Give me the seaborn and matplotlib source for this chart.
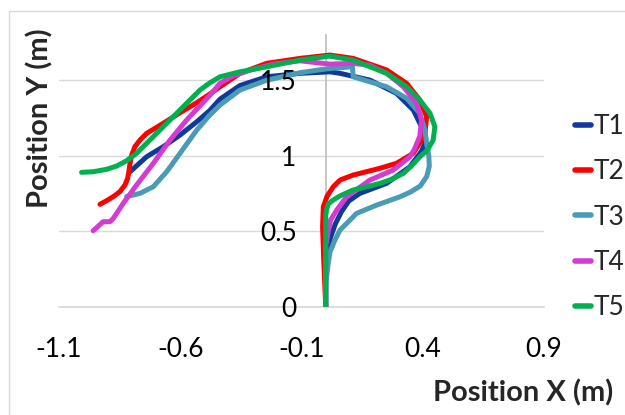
import matplotlib.pyplot as plt
import matplotlib.patches as mpatches
from matplotlib.lines import Line2D
import pandas as pd
import seaborn as sns

# trajectories (x, y in metres)
t1_x = [-0.807, -0.739, -0.67, -0.601, -0.532, -0.478, -0.436, -0.354, -0.244, -0.106, 0.017, 0.059,
        0.182, 0.292, 0.361, 0.395, 0.409, 0.395, 0.347, 0.251, 0.141, 0.095, 0.065, 0.04, 0.02, 0.01,
        0.0, 0.0]
t1_y = [0.894, 0.993, 1.06, 1.137, 1.225, 1.3, 1.375, 1.465, 1.523, 1.546, 1.556, 1.546,
        1.501, 1.413, 1.303, 1.192, 1.082, 1.03, 0.927, 0.817, 0.751, 0.70, 0.63, 0.55, 0.46, 0.38,
        0.3, 0.0]

t2_x = [-0.931, -0.904, -0.876, -0.849, -0.828, -0.817, -0.812, -0.807, -0.8, -0.787, -0.766, -0.739,
        -0.711, -0.67, -0.601, -0.532, -0.478, -0.436, -0.354, -0.244, -0.106, 0.017, 0.113, 0.251,
        0.334, 0.388, 0.416, 0.409, 0.395, 0.361, 0.292, 0.224, 0.113, 0.06, 0.031, 0.005, -0.01,
        -0.013, -0.008, 0.0]
t2_y = [0.678, 0.702, 0.729, 0.762, 0.806, 0.85, 0.894, 0.95, 1.005, 1.06, 1.104, 1.148,
        1.175, 1.215, 1.285, 1.351, 1.409, 1.457, 1.546, 1.612, 1.645, 1.667, 1.645, 1.568,
        1.479, 1.369, 1.258, 1.148, 1.104, 1.016, 0.95, 0.917, 0.872, 0.84, 0.795, 0.73, 0.662,
        0.53, 0.3, 0.0]

t3_x = [-0.821, -0.766, -0.711, -0.656, -0.601, -0.532, -0.478, -0.436, -0.354, -0.244, -0.106, 0.0,
        0.11, 0.113, 0.182, 0.251, 0.334, 0.388, 0.409, 0.416, 0.425, 0.427, 0.416, 0.39, 0.35, 0.306,
        0.21, 0.127, 0.1, 0.059, 0.038, 0.017, 0.009, 0.0, 0.0]
t3_y = [0.729, 0.751, 0.795, 0.894, 1.016, 1.17, 1.27, 1.336, 1.435, 1.5, 1.55, 1.575,
        1.59, 1.523, 1.49, 1.457, 1.38, 1.281, 1.17, 1.082, 1.0, 0.93, 0.861, 0.8, 0.76, 0.728,
        0.673, 0.618, 0.574, 0.508, 0.442, 0.36, 0.27, 0.15, 0.0]

t4_x = [-0.959, -0.918, -0.89, -0.876, -0.835, -0.78, -0.711, -0.642, -0.574, -0.519, -0.478, -0.436,
        -0.381, -0.312, -0.216, -0.106, 0.017, 0.113, 0.18, 0.251, 0.32, 0.375, 0.395, 0.388, 0.365,
        0.347, 0.278, 0.182, 0.086, 0.045, 0.02, 0.01, 0.0, 0.0]
t4_y = [0.503, 0.563, 0.563, 0.585, 0.685, 0.806, 0.95, 1.104, 1.236, 1.33, 1.40, 1.48,
        1.53, 1.567, 1.607, 1.629, 1.607, 1.612, 1.6, 1.546, 1.457, 1.347, 1.236, 1.13, 1.04,
        0.993, 0.905, 0.839, 0.728, 0.64, 0.574, 0.5, 0.4, 0.0]

t5_x = [-1.007, -0.959, -0.904, -0.862, -0.821, -0.78, -0.739, -0.684, -0.629, -0.574, -0.519, -0.478,
        -0.436, -0.354, -0.244, -0.106, 0.017, 0.112, 0.251, 0.334, 0.388, 0.43, 0.45, 0.443, 0.42,
        0.388, 0.355, 0.32, 0.27, 0.224, 0.17, 0.113, 0.06, 0.031, 0.01, 0.003, 0.0, 0.0, 0.0]
t5_y = [0.89, 0.894, 0.91, 0.932, 0.967, 1.016, 1.082, 1.17, 1.258, 1.347, 1.435, 1.483,
        1.523, 1.556, 1.589, 1.634, 1.66, 1.634, 1.546, 1.457, 1.369, 1.281, 1.192, 1.104, 1.04,
        0.993, 0.935, 0.883, 0.843, 0.817, 0.795, 0.773, 0.735, 0.707, 0.68, 0.64, 0.6, 0.3, 0.0]

trials = ["T1", "T2", "T3", "T4", "T5"]
colors = ["#0F3A9C", "#FF0000", "#4A9BB6", "#D43BD0", "#00B050"]
x_ticks = [-1.1, -0.6, -0.1, 0.4, 0.9]
x_labels = ["-1.1", "-0.6", "-0.1", "0.4", "0.9"]
y_ticks = [0, 0.5, 1, 1.5]
y_labels = ["0", "0.5", "1", "1.5"]

xs = [t1_x, t2_x, t3_x, t4_x, t5_x]
ys = [t1_y, t2_y, t3_y, t4_y, t5_y]
df = pd.concat(
    [pd.DataFrame({"x": x, "y": y, "trial": t}) for x, y, t in zip(xs, ys, trials)],
    ignore_index=True,
)

sns.set_theme(style="white")
plt.rcParams["font.family"] = ["Lato", "DejaVu Sans"]

fig = plt.figure(figsize=(6.25, 4.15), dpi=100)
ax = fig.add_axes([0.0944, 0.261, 0.776, 0.6547])

for v in y_ticks:
    ax.axhline(v, color="#D9D9D9", lw=1, zorder=0.5)

sns.lineplot(
    data=df, x="x", y="y", hue="trial", hue_order=trials, palette=colors,
    sort=False, estimator=None, lw=3.6, solid_capstyle="round",
    solid_joinstyle="round", legend=False, ax=ax,
)

ax.set_xlim(-1.1, 0.9)
ax.set_ylim(0, 1.8)
ax.set_xticks(x_ticks, x_labels)
ax.set_yticks(y_ticks, y_labels)
ax.set_xlabel(None)
ax.set_ylabel(None)

for s in ["top", "right"]:
    ax.spines[s].set_visible(False)
ax.spines["left"].set_position(("data", 0))
ax.spines["left"].set_color("#BFBFBF")
ax.spines["left"].set_zorder(1)
ax.spines["bottom"].set_color("#D9D9D9")
ax.spines["bottom"].set_zorder(1)
ax.tick_params(axis="both", length=0, labelsize=19, colors="black")
ax.tick_params(axis="y", pad=21)
ax.tick_params(axis="x", pad=22)
ax.yaxis.set_zorder(4)

fig.text(613 / 625, 1 - 393 / 415, "Position X (m)", ha="right", va="center",
         fontsize=21, fontweight="bold")
fig.text(40 / 625, 1 - 118 / 415, "Position Y (m)", ha="center", va="center",
         rotation=90, fontsize=21, fontweight="bold")

handles = [Line2D([], [], color=c, lw=4, solid_capstyle="round") for c in colors]
fig.legend(
    handles=handles, labels=trials, loc="upper left", bbox_to_anchor=(575 / 625, 1 - 114 / 415),
    frameon=False, fontsize=19, handlelength=0.62, handletextpad=0.08, labelspacing=0.77,
    borderpad=0, borderaxespad=0,
)

fig.add_artist(mpatches.Rectangle((9 / 625, -0.5), 2, 0.5 + (415 - 11) / 415,
                                  transform=fig.transFigure, fill=False,
                                  edgecolor="#D9D9D9", lw=1))

fig.savefig("out.png", dpi=100)
